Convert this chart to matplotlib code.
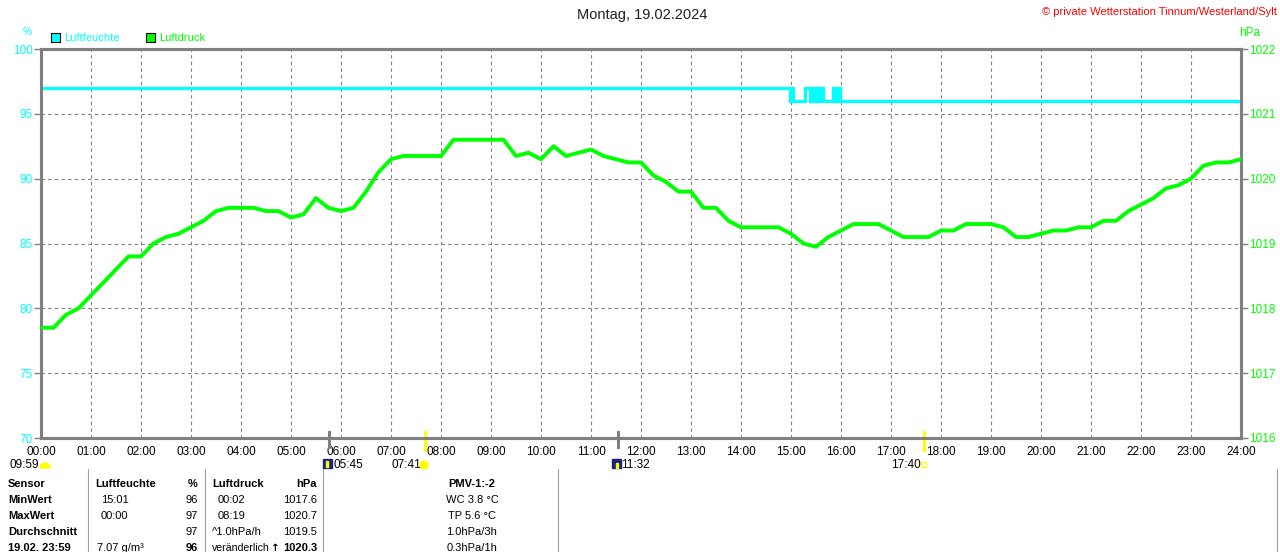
import matplotlib
matplotlib.use("Agg")
import matplotlib.pyplot as plt
import matplotlib.transforms as mtransforms
from matplotlib.patches import Rectangle, Circle, Wedge
import numpy as np

# ---------------- data ----------------
hours = [i * 0.25 for i in range(97)]
pressure = [
    1017.7, 1017.7, 1017.9, 1018.0, 1018.2, 1018.4, 1018.6, 1018.8, 1018.8,
    1019.0, 1019.1, 1019.15, 1019.25, 1019.35, 1019.5, 1019.55, 1019.55,
    1019.55, 1019.5, 1019.5, 1019.4, 1019.45, 1019.7, 1019.55, 1019.5,
    1019.55, 1019.8, 1020.1, 1020.3, 1020.35, 1020.35, 1020.35, 1020.35,
    1020.6, 1020.6, 1020.6, 1020.6, 1020.6, 1020.35, 1020.4, 1020.3,
    1020.5, 1020.35, 1020.4, 1020.45, 1020.35, 1020.3, 1020.25, 1020.25,
    1020.05, 1019.95, 1019.8, 1019.8, 1019.55, 1019.55, 1019.35, 1019.25,
    1019.25, 1019.25, 1019.25, 1019.15, 1019.0, 1018.95, 1019.1, 1019.2,
    1019.3, 1019.3, 1019.3, 1019.2, 1019.1, 1019.1, 1019.1, 1019.2,
    1019.2, 1019.3, 1019.3, 1019.3, 1019.25, 1019.1, 1019.1, 1019.15,
    1019.2, 1019.2, 1019.25, 1019.25, 1019.35, 1019.35, 1019.5, 1019.6,
    1019.7, 1019.85, 1019.9, 1020.0, 1020.2, 1020.25, 1020.25, 1020.3,
]
hum_times = [0.0, 14.98, 15.0, 15.04, 15.28, 15.38, 15.42, 15.48, 15.52,
             15.58, 15.6, 15.64, 15.84, 15.9, 15.92, 15.98, 24.0]
hum_values = [97, 96, 97, 96, 97, 96, 97, 96, 97, 96, 97, 96, 97, 96, 97, 96, 96]

hum_ticks = [70, 75, 80, 85, 90, 95, 100]
press_ticks = [1016, 1017, 1018, 1019, 1020, 1021, 1022]
x_labels = [f"{h:02d}:00" for h in range(25)]

event_times = [5.75, 7.683, 11.533, 17.667]
event_colors = ["#808080", "#ffff00", "#808080", "#ffff00"]

title = "Montag, 19.02.2024"
copyright_text = "© private Wetterstation Tinnum/Westerland/Sylt"

table_rows = ["Sensor", "MinWert", "MaxWert", "Durchschnitt", "19.02. 23:59"]
hum_col_time = ["Luftfeuchte", "15:01", "00:00", "", "7.07 g/m³"]
hum_col_val = ["%", "96", "97", "97", "96"]
press_col_time = ["Luftdruck", "00:02", "08:19", "^1.0hPa/h", "veränderlich"]
press_col_val = ["hPa", "1017.6", "1020.7", "1019.5", "1020.3"]
pmv_col = ["PMV-1:-2", "WC 3.8 °C", "TP 5.6 °C", "1.0hPa/3h", "0.3hPa/1h"]

# ---------------- figure ----------------
W, H = 1280, 552
plt.rcParams['font.family'] = ['Liberation Sans', 'DejaVu Sans']
fig = plt.figure(figsize=(W / 100, H / 100), dpi=100)
fig.patch.set_facecolor("white")

L, R, T, B = 41, 1241, 49, 438
ax = fig.add_axes([L / W, 1 - B / H, (R - L) / W, (B - T) / H])
ax2 = ax.twinx()

GRAY = "#808080"
CYAN = "#00ffff"
GREEN = "#00ff00"

ax.set_xlim(0, 24)
ax.set_ylim(70, 100)
ax2.set_ylim(1016, 1022)

# grid
for h in range(1, 24):
    ax.axvline(h, color=GRAY, lw=0.8, ls=(0, (3, 3)), zorder=1)
for v in hum_ticks[1:-1]:
    ax.axhline(v, color=GRAY, lw=0.8, ls=(0, (3, 3)), zorder=1)

# data
ax.plot(hum_times, hum_values, drawstyle="steps-post", color=CYAN, lw=2.3,
        zorder=3, solid_joinstyle="miter")
ax2.plot(hours, pressure, color=GREEN, lw=2.8, zorder=3)

ax2.set_zorder(ax.get_zorder() + 1)
ax2.patch.set_visible(False)

for a in (ax, ax2):
    for s in a.spines.values():
        s.set_color(GRAY)
        s.set_linewidth(2.2)

ax.set_xticks(range(25))
ax.set_xticklabels(x_labels)
ax.tick_params(axis="x", length=0, pad=6, labelsize=8.5, colors="black")
ax.set_yticks(hum_ticks)
ax.set_yticklabels([str(v) for v in hum_ticks])
ax.tick_params(axis="y", length=5, width=1, color=GRAY, pad=1,
               labelsize=8.5, labelcolor=CYAN)
ax2.set_yticks(press_ticks)
ax2.set_yticklabels([str(v) for v in press_ticks])
ax2.tick_params(axis="y", length=5, width=1, color=GRAY, pad=1,
                labelsize=8.5, labelcolor=GREEN)

# event markers under the axis
trans = mtransforms.blended_transform_factory(ax.transData, ax.transAxes)
for t, c in zip(event_times, event_colors):
    y0 = 0.015
    y1 = -0.022 if c == GRAY else -0.03
    ax.plot([t, t], [y0, y1], color=c, lw=2.2, transform=trans,
            clip_on=False, zorder=5)


def fx(x):
    return x / W


def fy(y):
    return 1 - y / H


def txt(x, y, s, **kw):
    fig.text(fx(x), fy(y), s, va="center", **kw)


PIX = mtransforms.IdentityTransform()  # display pixels (dpi = 100)


def pix(x, y):
    return (x, H - y)


# titles
txt(642, 15, title, ha="center", fontsize=10.5, color="#202020")
txt(1277, 12, copyright_text, ha="right", fontsize=8, color="#ff0000")
txt(27, 32, "%", ha="center", fontsize=7.5, color=CYAN)
txt(1250, 33, "hPa", ha="center", fontsize=8.5, color=GREEN)

# legend
for x0, col, label in [(51, CYAN, "Luftfeuchte"), (146, GREEN, "Luftdruck")]:
    fig.add_artist(Rectangle((fx(x0), fy(42)), 9 / W, 9 / H,
                             transform=fig.transFigure, facecolor=col,
                             edgecolor="black", lw=0.8))
    txt(x0 + 13, 38, label, ha="left", fontsize=8, color=col)

# event labels
EY = 465
txt(10, EY, "09:59", ha="left", fontsize=8.5)
fig.add_artist(Wedge(pix(45, 468), 5, 0, 180, transform=PIX,
                     color="#ffff00"))
fig.add_artist(Rectangle((fx(323), fy(468)), 9 / W, 9 / H,
                         transform=fig.transFigure, color="#1a237e"))
fig.add_artist(Rectangle((fx(326), fy(467)), 2 / W, 6 / H,
                         transform=fig.transFigure, color="#ffff00"))
txt(333, EY, "05:45", ha="left", fontsize=8.5)
txt(391, EY, "07:41", ha="left", fontsize=8.5)
fig.add_artist(Circle(pix(424, 465), 4, transform=PIX, color="#ffff00"))
fig.add_artist(Rectangle((fx(612), fy(468)), 9 / W, 9 / H,
                         transform=fig.transFigure, color="#1a237e"))
fig.add_artist(Rectangle((fx(616), fy(468)), 2 / W, 5 / H,
                         transform=fig.transFigure, color="#ffff00"))
txt(621, EY, "11:32", ha="left", fontsize=8.5)
txt(891, EY, "17:40", ha="left", fontsize=8.5)
fig.add_artist(Rectangle((fx(921), fy(467)), 5 / W, 5 / H,
                         transform=fig.transFigure, facecolor="none",
                         edgecolor="#ffff00", lw=0.8))

# table separators
for xs in [88, 205, 323, 558, 1277]:
    fig.add_artist(plt.Line2D([fx(xs), fx(xs)], [fy(469), fy(552)],
                              transform=fig.transFigure, color="#a0a0a0",
                              lw=0.8))

# table
row_y = [484, 500, 516, 532, 548]
for i, y in enumerate(row_y):
    txt(8, y, table_rows[i], ha="left", fontsize=8, weight="bold")
    bold_head = (i == 0)
    txt(95 if i == 0 else 101 if i < 4 else 97, y, hum_col_time[i],
        ha="left", fontsize=8, weight="bold" if bold_head else "normal")
    txt(198, y, hum_col_val[i], ha="right", fontsize=8,
        weight="bold" if (i == 0 or i == 4) else "normal")
    txt(212 if i in (0, 3, 4) else 218, y, press_col_time[i], ha="left",
        fontsize=7.6 if i == 4 else 8,
        weight="bold" if bold_head else "normal")
    txt(317, y, press_col_val[i], ha="right", fontsize=8,
        weight="bold" if (i == 0 or i == 4) else "normal")
    txt(472, y, pmv_col[i], ha="center", fontsize=8,
        weight="bold" if bold_head else "normal")
txt(275, 548, "↑", ha="center", fontsize=7.5, weight="bold",
    family=["DejaVu Sans"])

fig.savefig("out.png", dpi=100, facecolor="white")
